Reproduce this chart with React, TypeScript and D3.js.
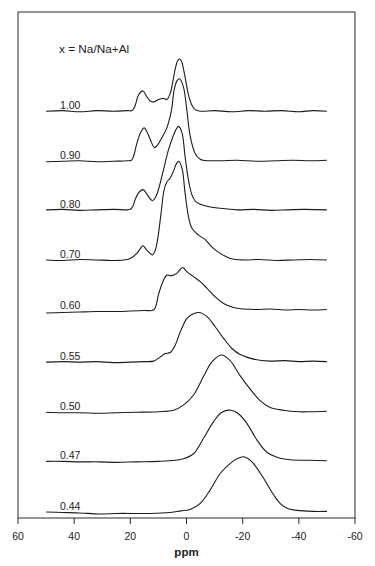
import React from "react";
import * as d3 from "d3";

// ---- data (ppm, relative intensity) ----
const labels = ["1.00", "0.90", "0.80", "0.70", "0.60", "0.55", "0.50", "0.47", "0.44"];
const offsets = [7.92, 6.94, 5.97, 4.98, 3.97, 2.96, 1.97, 1.0, 0];
const xTicks = [60, 40, 20, 0, -20, -40, -60];
const title = "x = Na/Na+Al";
const xLabel = "ppm";

const s100: [number, number][] = [
  [50, 0], [44, 0.01], [38, -0.01], [32, 0.01], [26, 0], [21, 0.01], [19.6, 0.01],
  [18.8, 0.05], [18.0, 0.16], [17.1, 0.32], [15.5, 0.4], [14.1, 0.28], [12.9, 0.2], [11.7, 0.18],
  [10.0, 0.23], [8.2, 0.25], [7.0, 0.23], [5.8, 0.35], [4.8, 0.61], [4.0, 0.84],
  [3.2, 0.99], [2.5, 1.03], [1.8, 0.99], [1.1, 0.84], [0.1, 0.55], [-0.7, 0.32],
  [-1.9, 0.12], [-3.1, 0.03], [-4.9, 0], [-10, 0.01], [-16, -0.01], [-22, 0.01],
  [-28, 0], [-34, 0.01], [-40, -0.01], [-45, 0.01], [-50, 0],
];
const s090: [number, number][] = [
  [50, -0.02], [44, -0.01], [38, 0], [32, -0.02], [26, -0.01], [21, 0], [19.6, 0.01],
  [18.8, 0.1], [17.7, 0.34], [16.4, 0.55], [15.1, 0.65], [13.9, 0.55], [12.9, 0.42], [11.4, 0.26],
  [10.2, 0.32], [8.8, 0.45], [7.0, 0.65], [5.8, 0.88], [5.2, 1.05], [4.4, 1.4],
  [3.4, 1.58], [2.5, 1.62], [1.1, 1.46], [-0.1, 1.01], [-1.3, 0.49], [-3.1, 0.14],
  [-4.9, 0.03], [-5.9, 0.01], [-12, 0], [-18, 0.01], [-25, -0.01], [-32, 0],
  [-38, 0.01], [-44, 0], [-50, 0.01],
];
const s080: [number, number][] = [
  [50, 0], [44, 0.01], [38, -0.01], [32, 0], [26, 0.01], [21, 0], [20.0, 0.01],
  [19.1, 0.07], [18.3, 0.2], [17.0, 0.34], [15.5, 0.4], [14.2, 0.32], [13.5, 0.26], [12.1, 0.18],
  [11.0, 0.25], [10.0, 0.4], [8.2, 0.79], [6.4, 1.19], [4.6, 1.48], [3.6, 1.6],
  [2.8, 1.65], [1.6, 1.52], [0.5, 1.05], [-0.7, 0.59], [-1.9, 0.3], [-3.0, 0.18],
  [-4.5, 0.12], [-7.3, 0.07], [-12.0, 0.03], [-18, 0], [-24, 0.01], [-30, -0.01],
  [-36, 0], [-42, 0.01], [-50, 0],
];
const s070: [number, number][] = [
  [50, 0], [44, -0.01], [38, 0.01], [32, 0], [26, -0.01], [21, 0.01], [20.0, 0.03],
  [17.7, 0.13], [16.5, 0.22], [15.5, 0.28], [14.5, 0.22], [13.5, 0.16], [12.1, 0.1],
  [11.2, 0.18], [10.3, 0.4], [9.0, 0.95], [8.0, 1.38], [7.0, 1.54], [5.8, 1.62],
  [4.6, 1.76], [3.6, 1.9], [2.8, 1.95], [1.6, 1.81], [0.5, 1.32], [-0.7, 0.86],
  [-1.9, 0.63], [-4.3, 0.49], [-6.7, 0.4], [-9.0, 0.26], [-12.0, 0.13], [-15.6, 0.03],
  [-20.3, 0], [-26, 0.01], [-32, -0.01], [-38, 0], [-44, 0.01], [-50, 0],
];
const s060: [number, number][] = [
  [50, -0.04], [44, -0.03], [38, -0.02], [32, -0.01], [26, -0.01], [20, 0], [15, 0.01],
  [11.7, 0.02], [10.8, 0.12], [10.0, 0.32], [8.2, 0.61], [7.0, 0.71], [6.0, 0.7],
  [5.2, 0.7], [3.4, 0.75], [1.4, 0.86], [-0.1, 0.78], [-2.5, 0.68], [-4.9, 0.58],
  [-7.3, 0.45], [-10.2, 0.28], [-13.2, 0.15], [-16.7, 0.07], [-20.3, 0.04],
  [-25, 0.03], [-30, 0.04], [-35, 0.02], [-40, 0.03], [-45, 0.02], [-50, 0.03],
];
const s055: [number, number][] = [
  [50, 0], [44, 0.01], [38, 0], [32, 0.01], [26, -0.01], [20, 0], [15, 0.01],
  [11.7, 0.02], [9.4, 0.1], [7.6, 0.17], [5.8, 0.19], [4.0, 0.34], [2.2, 0.6],
  [-0.1, 0.86], [-1.9, 0.94], [-4.3, 0.98], [-7.3, 0.9], [-10.2, 0.7], [-13.2, 0.47],
  [-16.2, 0.27], [-19.1, 0.15], [-23.8, 0.06], [-29.8, 0.02], [-35, 0.03], [-40, 0.01],
  [-45, 0.02], [-50, 0.01],
];
const s050: [number, number][] = [
  [50, 0], [44, -0.01], [38, -0.01], [31, -0.02], [25, -0.01], [18, 0], [10, 0.01],
  [4.6, 0.04], [1.1, 0.14], [-2.5, 0.34], [-6.0, 0.7], [-9.0, 0.99], [-12.4, 1.13],
  [-15.4, 1.03], [-19.0, 0.73], [-22.5, 0.47], [-26.0, 0.24], [-29.6, 0.1],
  [-34.5, 0.04], [-40, 0.01], [-44, 0.01], [-50, 0.02],
];
const s047: [number, number][] = [
  [50, 0], [44, 0], [38, -0.01], [31, -0.01], [25, -0.02], [18, -0.01], [10, 0],
  [4, 0.02], [1.1, 0.05], [-2.5, 0.15], [-6.0, 0.45], [-9.6, 0.78], [-12.6, 0.97],
  [-15.8, 1.01], [-18.5, 0.94], [-21.5, 0.75], [-25.1, 0.42], [-28.6, 0.18],
  [-32.2, 0.08], [-36.9, 0.03], [-44.0, 0.02], [-50, 0.01],
];
const s044: [number, number][] = [
  [50, 0], [44, -0.01], [38, -0.02], [31, -0.04], [25, -0.03], [18, -0.03], [13, -0.03],
  [5.8, -0.01], [2, 0.02], [-1.3, 0.05], [-4.9, 0.17], [-8.4, 0.43], [-12.0, 0.76],
  [-15.6, 0.96], [-18, 1.05], [-20.3, 1.09], [-22, 1.05], [-23.8, 0.96], [-27.4, 0.67],
  [-31.0, 0.34], [-33.5, 0.16], [-36, 0.07], [-39.3, 0.03], [-45, 0.01], [-50, 0.01],
];
const spectra = [s100, s090, s080, s070, s060, s055, s050, s047, s044];

// ---- layout ----
const W = 375;
const H = 566;
const left = 18;
const right = 355;
const top = 12;
const bottom = 518;

export default function App() {
  const x = d3.scaleLinear().domain([60, -60]).range([left, right]);
  const y = d3.scaleLinear().domain([-0.12, 9.88]).range([bottom, top]);
  const font = "'Liberation Sans', Arial, Helvetica, sans-serif";
  const ink = "#1c1c1c";

  return (
    <svg
      width={W}
      height={H}
      style={{ position: "absolute", left: 0, top: 0, background: "#ffffff" }}
    >
      <rect x={0} y={0} width={W} height={H} fill="#ffffff" />
      <rect
        x={left}
        y={top}
        width={right - left}
        height={bottom - top}
        fill="none"
        stroke="#2a2a2a"
        strokeWidth={1}
      />
      {xTicks.map((t) => (
        <g key={t}>
          <line x1={x(t)} x2={x(t)} y1={bottom} y2={bottom + 6} stroke="#2a2a2a" strokeWidth={1} />
          <text
            x={x(t)}
            y={bottom + 22}
            textAnchor="middle"
            fontFamily={font}
            fontSize={10.5}
            fill={ink}
          >
            {t}
          </text>
        </g>
      ))}
      <text
        x={x(0)}
        y={556}
        textAnchor="middle"
        fontFamily={font}
        fontSize={11.5}
        fontWeight="bold"
        fill={ink}
      >
        {xLabel}
      </text>
      <text x={59} y={53} fontFamily={font} fontSize={11.8} fill={ink}>
        {title}
      </text>
      {spectra.map((s, i) => {
        const off = offsets[i];
        const line = d3
          .line<[number, number]>()
          .x((d) => x(d[0]))
          .y((d) => y(d[1] + off))
          .curve(d3.curveCatmullRom.alpha(0.5));
        return (
          <g key={labels[i]}>
            <path d={line(s) || ""} fill="none" stroke={ink} strokeWidth={1.1} />
            <text
              x={60}
              y={y(off) - 2}
              fontFamily={font}
              fontSize={10.5}
              fill={ink}
            >
              {labels[i]}
            </text>
          </g>
        );
      })}
    </svg>
  );
}
